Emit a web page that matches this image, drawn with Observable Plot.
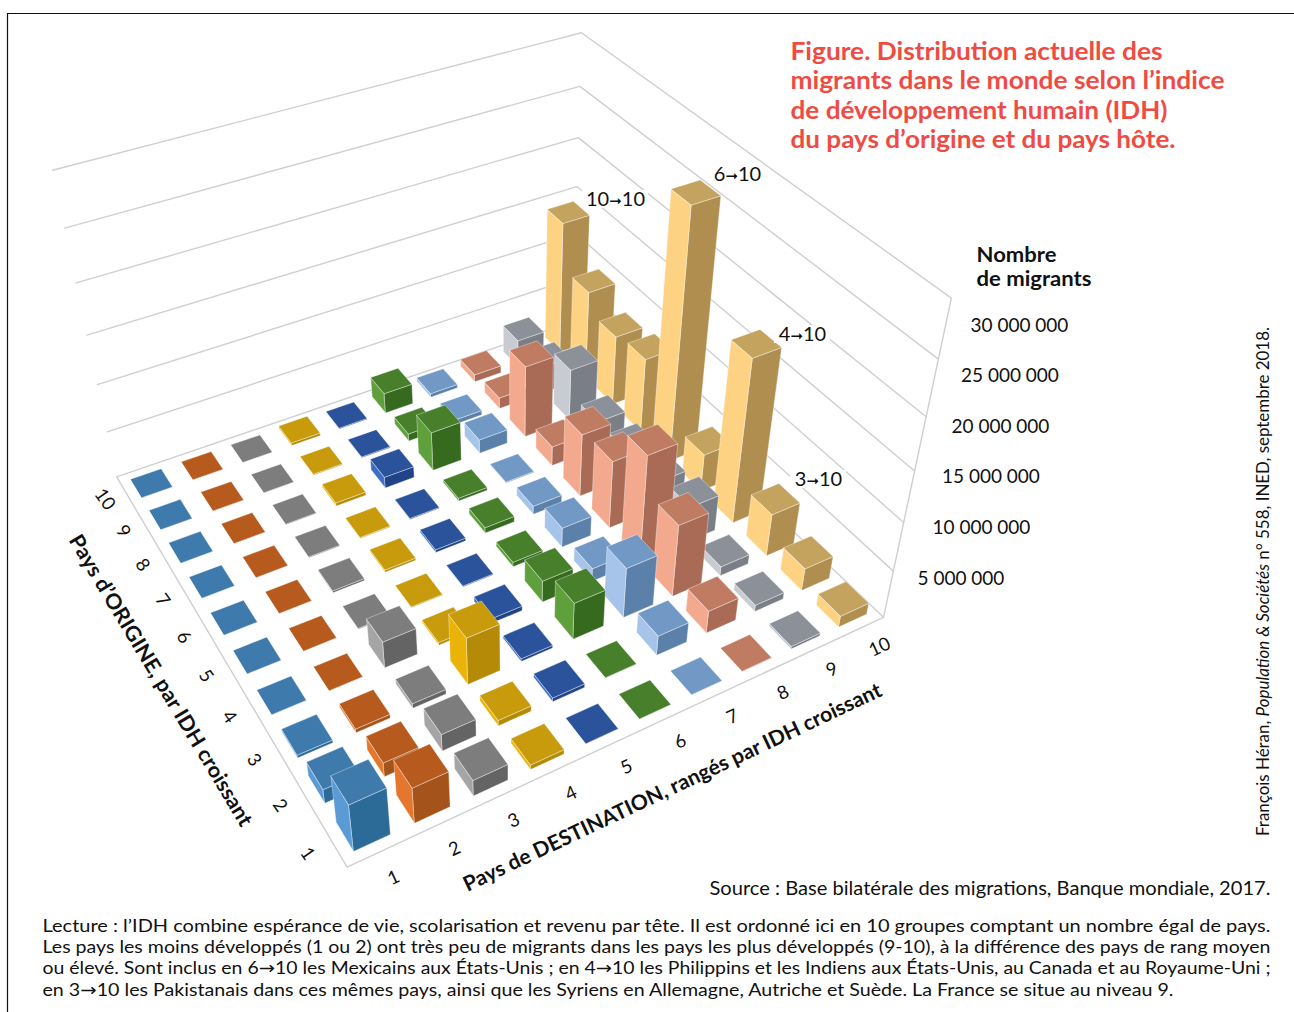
<!DOCTYPE html>
<html lang="fr"><head><meta charset="utf-8">
<style>html,body{margin:0;padding:0;background:#fff}svg{display:block}</style>
<script src="https://cdn.jsdelivr.net/npm/d3@7"></script>
<script src="https://cdn.jsdelivr.net/npm/@observablehq/plot@0.6"></script>
</head><body><div id="chart"></div>
<script>
// Migrants in millions, one array per country of origin, destinations 1..10
const origin1  = [5.0, 3.8, 1.7, 0.5, 0.03, 0.02, 0.03, 0.05, 0.3, 1.2];
const origin2  = [1.5, 1.5, 1.8, 0.6, 0.4, 0.05, 2.1, 2.4, 0.7, 2.4];
const origin3  = [0.3, 0.4, 0.5, 5.0, 0.3, 3.9, 5.3, 7.6, 1.0, 4.5];
const origin4  = [0.02, 0.02, 2.8, 0.3, 0.5, 2.3, 1.4, 11.2, 3.8, 17];
const origin5  = [0.02, 0.02, 0.1, 0.1, 0.1, 0.5, 2.1, 7.2, 3, 4];
const origin6  = [0.02, 0.02, 0.2, 0.25, 0.3, 0.6, 0.9, 6.7, 3, 25.7];
const origin7  = [0.02, 0.02, 0.1, 0.1, 0.1, 0.3, 0.1, 2.1, 3, 8];
const origin8  = [0.02, 0.02, 0.05, 0.35, 1.2, 4.2, 1.5, 7.7, 5.6, 7.5];
const origin9  = [0.02, 0.02, 0.02, 0.1, 0.1, 0.8, 0.5, 1.2, 3, 9.5];
const origin10 = [0.02, 0.02, 0.02, 0.3, 0.1, 2.2, 0.4, 0.8, 3, 14.2];
const origins = [origin1, origin2, origin3, origin4, origin5, origin6, origin7, origin8, origin9, origin10];
const ticks = ["1","2","3","4","5","6","7","8","9","10"];
const zTicks = [5, 10, 15, 20, 25, 30];
const zLabels = ["5 000 000","10 000 000","15 000 000","20 000 000","25 000 000","30 000 000"];
const leftFace  = ["#5b9bd5","#e4772d","#a5a5a5","#eab308","#3f6fc4","#5fa03c","#a6c3ea","#f2a98e","#c8cbd2","#fdd383"];
const rightFace = ["#2c6a98","#a4531a","#646464","#b58a06","#214488","#366b1f","#5b80aa","#a96b56","#7a7e86","#b08e50"];
const topFace   = ["#3f7aad","#b65a1e","#7d7d7d","#c79b0c","#2b539b","#477f2b","#7299c6","#c07b63","#8b9099","#c4a35f"];
const titleLines = ["Figure. Distribution actuelle des","migrants dans le monde selon l’indice","de développement humain (IDH)","du pays d’origine et du pays hôte."];
const noteLines = [
 "Lecture : l’IDH combine espérance de vie, scolarisation et revenu par tête. Il est ordonné ici en 10 groupes comptant un nombre égal de pays.",
 "Les pays les moins développés (1 ou 2) ont très peu de migrants dans les pays les plus développés (9-10), à la différence des pays de rang moyen",
 "ou élevé. Sont inclus en 6→10 les Mexicains aux États-Unis ; en 4→10 les Philippins et les Indiens aux États-Unis, au Canada et au Royaume-Uni ;",
 "en 3→10 les Pakistanais dans ces mêmes pays, ainsi que les Syriens en Allemagne, Autriche et Suède. La France se situe au niveau 9."];

// Camera calibration: [u, v, millions, px, py] read from the wall corners
const calibration = [
 [0,0,0,347,867],
 [0,1,0,117,475],[0,1,5,107,432],[0,1,10,96,384],[0,1,15,86,334],[0,1,20,75.5,283],[0,1,25,64,228],[0,1,30,52,170],
 [1,0,0,884,617],[1,0,5,893,570],[1,0,10,903,522],[1,0,15,914,471],[1,0,20,925,417],[1,0,25,938,359],[1,0,30,950,296],
 [1,1,0,571,321],[1,1,5,573,278],[1,1,10,575,233],[1,1,15,577,186],[1,1,20,579,137],[1,1,25,580,86],[1,1,30,581,32]];
function solveCamera(pts){
  const A=[],b=[];
  for(const [u,v,m,px,py] of pts){
    const w=m/30,x=px/1000,y=py/1000;
    A.push([u,v,w,1,0,0,0,0,-x*u,-x*v,-x*w]);b.push(x);
    A.push([0,0,0,0,u,v,w,1,-y*u,-y*v,-y*w]);b.push(y);
  }
  const n=11,M=Array.from({length:n},(_,i)=>{
    const r=new Array(n+1).fill(0);
    A.forEach((row,k)=>{for(let j=0;j<n;j++)r[j]+=row[i]*row[j];r[n]+=row[i]*b[k];});
    return r;});
  for(let i=0;i<n;i++){
    let p=i;for(let k=i+1;k<n;k++)if(Math.abs(M[k][i])>Math.abs(M[p][i]))p=k;
    [M[i],M[p]]=[M[p],M[i]];
    for(let k=0;k<n;k++)if(k!==i){const f=M[k][i]/M[i][i];for(let j=i;j<=n;j++)M[k][j]-=f*M[i][j];}
  }
  return M.map((r,i)=>r[n]/r[i]);
}
const C=solveCamera(calibration);
function P(u,v,m){const w=m/30,d=C[8]*u+C[9]*v+C[10]*w+1;
  return [1000*(C[0]*u+C[1]*v+C[2]*w+C[3])/d,1000*(C[4]*u+C[5]*v+C[6]*w+C[7])/d];}

// Polygons from the values through the projection
const fillFrac=0.6, polys=[];
function face(id,corners,fill){corners.forEach(([u,v,m],i)=>{const [x,y]=P(u,v,m);polys.push({id,i,x,y,fill});});}
const cells=[];
origins.forEach((row,o)=>row.forEach((val,d)=>cells.push({o,d,val})));
cells.sort((a,b)=>(b.o+b.d)-(a.o+a.d));
for(const {o,d,val} of cells){
  const h=fillFrac/20,uc=(d+.5)/10,vc=(o+.5)/10,u0=uc-h,u1=uc+h,v0=vc-h,v1=vc+h,id=`${o}-${d}`;
  face(id+"L",[[u0,v0,0],[u0,v1,0],[u0,v1,val],[u0,v0,val]],leftFace[d]);
  face(id+"R",[[u0,v0,0],[u1,v0,0],[u1,v0,val],[u0,v0,val]],rightFace[d]);
  face(id+"T",[[u0,v0,val],[u1,v0,val],[u1,v1,val],[u0,v1,val]],topFace[d]);
}
// Wall and floor lines
const wall=[];
zTicks.forEach(z=>[[0,1],[1,1],[1,0]].forEach(([u,v])=>{const [x,y]=P(u,v,z);wall.push({id:"z"+z,x,y});}));
[[0,1],[0,0],[1,0],[1,1],[0,1]].forEach(([u,v])=>{const [x,y]=P(u,v,0);wall.push({id:"floor",x,y});});
[0,30].forEach(z=>{const [x,y]=P(1,0,z);wall.push({id:"edge",x,y});});

const destTicks=ticks.map((t,i)=>{const [x,y]=P((i+.5)/10,-0.05,0);return {x,y,t};});
const origTicks=ticks.map((t,i)=>{const [x,y]=P(-0.04,(i+.5)/10,0);return {x,y,t};});
const zx=d3.scaleLinear([5,10,30],[917,932,970]),zy=d3.scaleLinear([5,30],[578,325]);
const zText=zTicks.map((z,i)=>({x:zx(z),y:zy(z),t:zLabels[i]}));
const callouts=[{x:615,y:199,t:"10➞10"},{x:737,y:174,t:"6➞10"},{x:802,y:334,t:"4➞10"},{x:818,y:479,t:"3➞10"}];
const font="Lato";
const txt=(rows,o)=>Plot.text(rows,{x:"x",y:"y",text:"t",fontFamily:font,fill:"#111",...o});
const lines=(arr,x,y0,dy)=>arr.map((t,i)=>({x,y:y0+i*dy,t}));

const svg=Plot.plot({
 width:1294,height:1012,margin:0,
 x:{domain:[0,1294],range:[0,1294],axis:null},
 y:{domain:[0,1012],range:[0,1012],axis:null},
 color:{type:"identity"},
 marks:[
  Plot.ruleY([13],{x1:7,x2:1294,stroke:"#111",strokeWidth:1.2}),
  Plot.ruleX([7],{y1:13,y2:1012,stroke:"#111",strokeWidth:1.2}),
  Plot.line(wall,{x:"x",y:"y",z:"id",stroke:"#cfcfcf",strokeWidth:1.4}),
  Plot.line(polys,{x:"x",y:"y",z:"id",fill:"fill",curve:"linear-closed",stroke:"#ffffff",strokeOpacity:.4,strokeWidth:.9}),
  Plot.rect(callouts,{x:"x",y:"y",inset:0,fill:"white",x1:d=>d.x-(d.t.length>4?33:28),x2:d=>d.x+(d.t.length>4?33:28),y1:d=>d.y-9,y2:d=>d.y+9}),
  txt(callouts,{fontSize:20}),
  txt(destTicks,{fontSize:18.5,rotate:-25}),
  txt(origTicks,{fontSize:18.5,rotate:55}),
  txt(zText,{fontSize:19,textAnchor:"start"}),
  txt([{x:672,y:787,t:"Pays de DESTINATION, rangés par IDH croissant"}],{fontSize:21,fontWeight:700,rotate:-25.3}),
  txt([{x:160,y:680,t:"Pays d’ORIGINE, par IDH croissant"}],{fontSize:21,fontWeight:700,rotate:59}),
  txt(lines(["Nombre","de migrants"],976,255,24.5),{fontSize:20,fontWeight:700,textAnchor:"start"}),
  txt(lines(titleLines,790,52,29.3),{fontSize:24,fontWeight:700,fill:"#ef4b43",textAnchor:"start"}),
  txt([{x:1270,y:888.5,t:"Source : Base bilatérale des migrations, Banque mondiale, 2017."}],{fontSize:18.5,textAnchor:"end"}),
  txt(lines(noteLines,42,925.5,21.3),{fontSize:17.7,textAnchor:"start"}),
  txt([{x:1263,y:581,t:"François Héran, Population & Sociétés n° 558, INED, septembre 2018."}],{fontSize:16.5,rotate:-90})
 ]
});
document.getElementById("chart").append(svg);
// Fit line lengths, draw the arrows in a font that has them, set the italic journal name
const widths=new Map([[noteLines[0],1228],[noteLines[1],1228],[noteLines[2],1228],[noteLines[3],1131],
 [titleLines[0],372],[titleLines[1],434],[titleLines[2],377],[titleLines[3],385],
 ["Nombre",80],["de migrants",115],
 ["Source : Base bilatérale des migrations, Banque mondiale, 2017.",561],
 ["Pays de DESTINATION, rangés par IDH croissant",460],["Pays d’ORIGINE, par IDH croissant",336],
 ["François Héran, Population & Sociétés n° 558, INED, septembre 2018.",509]]);
d3.select(svg).selectAll("text").each(function(){
  const s=this.textContent;
  if(widths.has(s)){this.setAttribute("textLength",widths.get(s));this.setAttribute("lengthAdjust","spacingAndGlyphs");}
  if(!/[→➞]|Population &/.test(s)) return;
  const ns=this.namespaceURI;
  this.textContent="";
  s.split(/(→|➞|Population & Sociétés)/).forEach(t=>{
    const e=document.createElementNS(ns,"tspan");e.textContent=t;
    if(t==="→"||t==="➞") e.setAttribute("font-family","DejaVu Sans");
    if(t==="➞") e.setAttribute("font-size","15");
    if(t==="Population & Sociétés") e.setAttribute("font-style","italic");
    this.append(e);});
});
</script></body></html>
